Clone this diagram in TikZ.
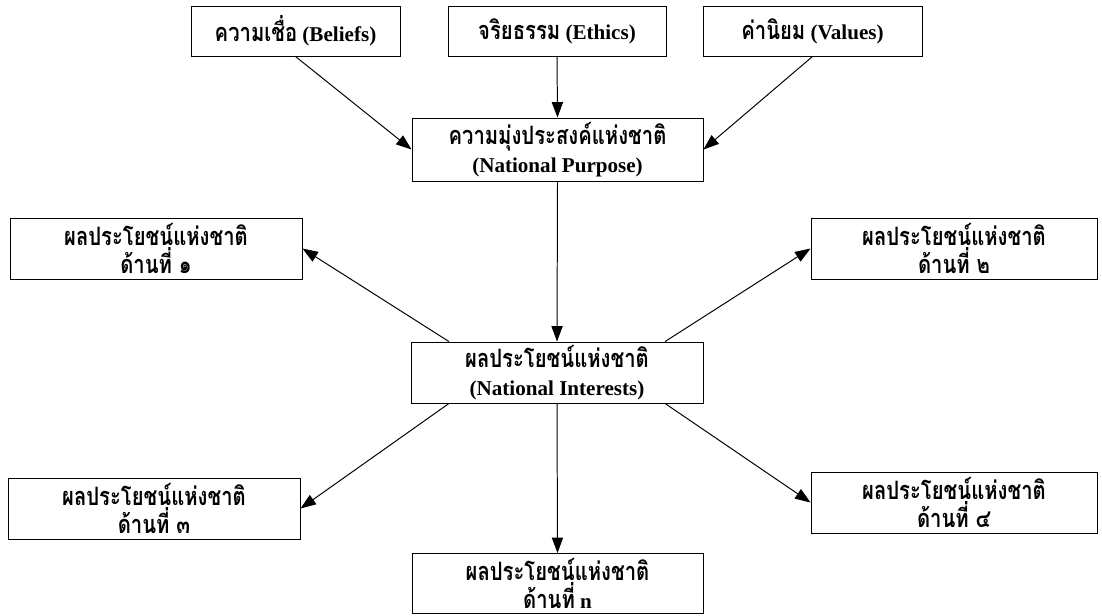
\documentclass[tikz,border=0pt]{standalone}
\usepackage{fontspec}
\setmainfont{Liberation Serif}
\newfontfamily\thaifont[Script=Thai, Scale=1.2, FakeStretch=0.8]{Loma}
\usetikzlibrary{arrows.meta}
\newcommand{\tht}[1]{{\thaifont #1}}
\tikzset{every path/.style={black, line width=0.7pt},
  box/.style 2 args={draw, align=center, inner sep=1pt, minimum width=#1*0.025cm, minimum height=#2*0.025cm,
    font=\bfseries\fontsize{15}{20}\selectfont},
  link/.style={-{Triangle[length=11pt,width=8pt]}}}

\begin{document}
\begin{tikzpicture}[x=0.025cm, y=-0.025cm]
  \useasboundingbox (0,0) rectangle (1102,616);
  % top row
  \node[box={209}{50}] (bel) at (295.5,31) {\tht{ความเชื่อ} (Beliefs)};
  \node[box={218}{50}] (eth) at (557,31)   {\tht{จริยธรรม} (Ethics)};
  \node[box={219}{50}] (val) at (812.5,31) {\tht{ค่านิยม} (Values)};
  \node[box={291}{63}] (pur) at (557.5,149.5) {\tht{ความมุ่งประสงค์แห่งชาติ}\\(National Purpose)};
  \node[box={292}{61}] (ni)  at (557,372.5)   {\tht{ผลประโยชน์แห่งชาติ}\\(National Interests)};
  % the five sides
  \node[box={292}{61}] (d1) at (156,248.5)   {\tht{ผลประโยชน์แห่งชาติ}\\\tht{ด้านที่ ๑}};
  \node[box={286}{61}] (d2) at (954,248.5)   {\tht{ผลประโยชน์แห่งชาติ}\\\tht{ด้านที่ ๒}};
  \node[box={292}{61}] (d3) at (154,508.5)   {\tht{ผลประโยชน์แห่งชาติ}\\\tht{ด้านที่ ๓}};
  \node[box={286}{61}] (d4) at (954,502.5)   {\tht{ผลประโยชน์แห่งชาติ}\\\tht{ด้านที่ ๔}};
  \node[box={291}{60}, font=\bfseries\fontsize{15}{18}\selectfont] (dn) at (557.5,583.5)
    {\tht{ผลประโยชน์แห่งชาติ}\\\tht{ด้านที่} n};
  \draw[link] (bel.south) -- (pur.west);
  \draw[link] (eth.south) -- (pur.north);
  \draw[link] (val.south) -- (pur.east);
  \draw[link] (pur.south) -- (ni.north);
  \draw[link] (ni.164) -- (d1.east);
  \draw[link] (ni.16)  -- (d2.west);
  \draw[link] (ni.196) -- (d3.east);
  \draw[link] (ni.344) -- (d4.west);
  \draw[link] (ni.south) -- (dn.north);
\end{tikzpicture}
\end{document}
